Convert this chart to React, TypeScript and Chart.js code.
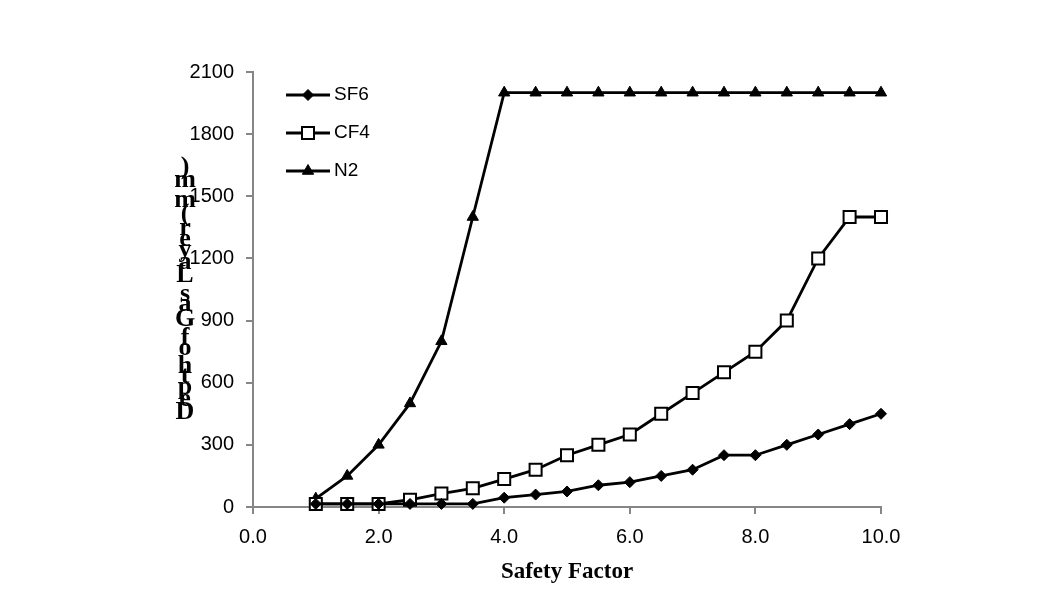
import React, { useEffect, useRef } from "react";
import { Chart, registerables } from "chart.js";

Chart.register(...registerables);

const xValues = [1, 1.5, 2, 2.5, 3, 3.5, 4, 4.5, 5, 5.5, 6, 6.5, 7, 7.5, 8, 8.5, 9, 9.5, 10];
const sf6 = [15, 15, 15, 15, 15, 15, 45, 60, 75, 105, 120, 150, 180, 250, 250, 300, 350, 400, 450];
const cf4 = [15, 15, 15, 35, 65, 90, 135, 180, 250, 300, 350, 450, 550, 650, 750, 900, 1200, 1400, 1400];
const n2 = [40, 150, 300, 500, 800, 1400, 2000, 2000, 2000, 2000, 2000, 2000, 2000, 2000, 2000, 2000, 2000, 2000, 2000];
const seriesNames = ["SF6", "CF4", "N2"];
const xTitle = "Safety Factor";
const yTitle = "Depth of Gas Layer (mm)";

const AXIS_GRAY = "#868686";

function drawMarker(ctx: CanvasRenderingContext2D, style: string, x: number, y: number, r: number) {
  ctx.beginPath();
  if (style === "rectRot") {
    ctx.moveTo(x, y - r);
    ctx.lineTo(x + r, y);
    ctx.lineTo(x, y + r);
    ctx.lineTo(x - r, y);
    ctx.closePath();
  } else if (style === "rect") {
    const s = r * Math.SQRT1_2;
    ctx.rect(x - s, y - s, 2 * s, 2 * s);
  } else {
    const h = r * 1.5;
    ctx.moveTo(x, y - (h * 2) / 3);
    ctx.lineTo(x + r * 0.866, y + h / 3);
    ctx.lineTo(x - r * 0.866, y + h / 3);
    ctx.closePath();
  }
  ctx.fill();
  ctx.stroke();
}

const textPlugin = {
  id: "customText",
  afterDraw(chart: any) {
    const ctx = chart.ctx;
    const area = chart.chartArea;
    ctx.save();
    ctx.fillStyle = "#000";
    ctx.font = 'bold 23px "Liberation Serif", serif';
    ctx.textAlign = "center";
    ctx.textBaseline = "middle";
    ctx.fillText(xTitle, (area.left + area.right) / 2, 572);

    // y title: upright characters stacked bottom-to-top
    ctx.font = 'bold 26px "Liberation Serif", serif';
    const chars = yTitle.split("");
    const widths = chars.map((c) => ctx.measureText(c).width);
    const total = widths.reduce((a, b) => a + b, 0);
    const k = 258 / total;
    let cum = 0;
    const bottom = 421;
    chars.forEach((c, i) => {
      const cy = bottom - (cum + widths[i] / 2) * k;
      cum += widths[i];
      if (c !== " ") ctx.fillText(c, 185, cy);
    });

    // legend
    const lx0 = area.left + 33;
    const lx1 = area.left + 77;
    const ly0 = area.top + 23;
    chart.data.datasets.forEach((ds: any, i: number) => {
      const y = ly0 + i * 38;
      ctx.strokeStyle = "#000";
      ctx.lineWidth = 2.8;
      ctx.beginPath();
      ctx.moveTo(lx0, y);
      ctx.lineTo(lx1, y);
      ctx.stroke();
      const mx = (lx0 + lx1) / 2;
      ctx.lineWidth = ds.pointBorderWidth;
      ctx.strokeStyle = ds.pointBorderColor;
      ctx.fillStyle = ds.pointBackgroundColor;
      drawMarker(ctx, ds.pointStyle, mx, y, ds.pointRadius);
      ctx.fillStyle = "#000";
      ctx.font = '19px "Liberation Sans", sans-serif';
      ctx.textAlign = "left";
      ctx.textBaseline = "middle";
      ctx.fillText(ds.label, lx1 + 4, y);
    });
    ctx.restore();
  },
};

export default function App() {
  const ref = useRef<HTMLCanvasElement>(null);
  useEffect(() => {
    if (!ref.current) return;
    const mk = (arr: number[]) => xValues.map((x, i) => ({ x, y: arr[i] }));
    const common = { borderColor: "#000", borderWidth: 2.8, clip: false, pointBorderColor: "#000" };
    const chart = new Chart(ref.current, {
      type: "line",
      data: {
        datasets: [
          {
            ...common,
            label: seriesNames[0],
            data: mk(sf6),
            pointStyle: "rectRot",
            pointRadius: 5.5,
            pointBackgroundColor: "#000",
            pointBorderWidth: 1,
          },
          {
            ...common,
            label: seriesNames[1],
            data: mk(cf4),
            pointStyle: "rect",
            pointRadius: 8.5,
            pointBackgroundColor: "#fff",
            pointBorderWidth: 2,
          },
          {
            ...common,
            label: seriesNames[2],
            data: mk(n2),
            pointStyle: "triangle",
            pointRadius: 6.5,
            pointBackgroundColor: "#000",
            pointBorderWidth: 1,
          },
        ] as any,
      },
      options: {
        animation: false,
        responsive: false,
        maintainAspectRatio: false,
        layout: { padding: { top: 72, right: 171, left: 0, bottom: 0 } },
        plugins: { legend: { display: false }, tooltip: { enabled: false } },
        scales: {
          x: {
            type: "linear",
            min: 0,
            max: 10,
            ticks: {
              stepSize: 2,
              color: "#000",
              font: { family: '"Liberation Sans", sans-serif', size: 20 },
              padding: 11,
              callback: (v: any) => Number(v).toFixed(1),
              maxRotation: 0,
            },
            grid: { drawOnChartArea: false, color: AXIS_GRAY, lineWidth: 2, tickLength: 7 },
            border: { color: AXIS_GRAY, width: 2 },
            afterFit: (s: any) => {
              s.height = 108;
            },
          },
          y: {
            type: "linear",
            min: 0,
            max: 2100,
            ticks: {
              stepSize: 300,
              color: "#000",
              font: { family: '"Liberation Sans", sans-serif', size: 20 },
              padding: 12,
              callback: (v: any) => String(v),
            },
            grid: { drawOnChartArea: false, color: AXIS_GRAY, lineWidth: 2, tickLength: 7 },
            border: { color: AXIS_GRAY, width: 2 },
            afterFit: (s: any) => {
              s.width = 253;
            },
          },
        },
      },
      plugins: [textPlugin],
    });
    return () => chart.destroy();
  }, []);
  return (
    <div style={{ position: "fixed", left: 0, top: 0, width: 1052, height: 615, background: "#fff" }}>
      <canvas ref={ref} width={1052} height={615} style={{ display: "block" }} />
    </div>
  );
}
